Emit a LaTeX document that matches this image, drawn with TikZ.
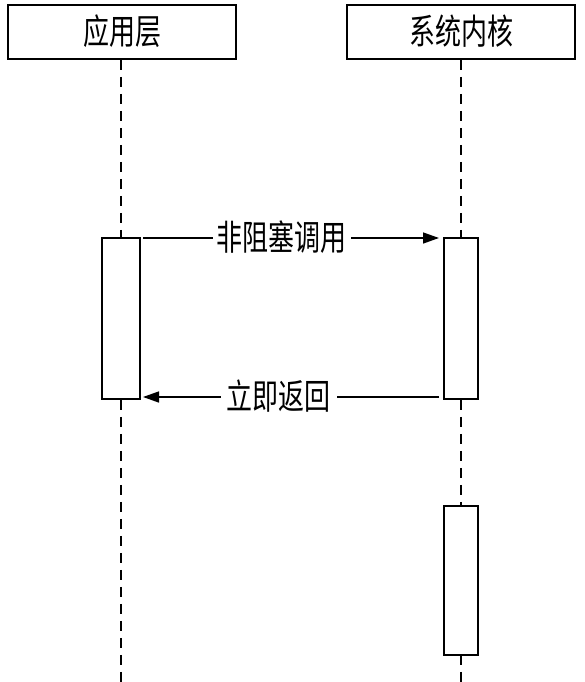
\documentclass[tikz,border=0pt]{standalone}
\usepackage{fontspec}
\newfontfamily\cjk{Noto Sans CJK SC}
\usetikzlibrary{arrows.meta}
\newcommand{\tallt}[1]{\scalebox{1}[1.35]{#1}}
\begin{document}
\begin{tikzpicture}[x=1pt,y=-1pt,
  header/.style={draw,line width=1.6pt,fill=white,minimum width=228pt,minimum height=54pt,inner sep=0pt,font=\cjk\fontsize{26}{30}\selectfont},
  lifeline/.style={line width=1.3pt,dash pattern=on 10pt off 7pt},
  actbox/.style={draw,line width=1.6pt,fill=white,inner sep=0pt},
  msg/.style={line width=1.4pt,-{Triangle[length=16pt,width=11pt]}},
  msglabel/.style={fill=white,inner xsep=4pt,inner ysep=2pt,font=\cjk\fontsize{26}{30}\selectfont}]
\useasboundingbox (0,0) rectangle (585,682);
\node[header] (app) at (122,32) {};
\node[header] (ker) at (461,32) {};
\node (appt) at (122,31) {\cjk\fontsize{26}{30}\selectfont\tallt{应用层}};
\node (kert) at (461,31) {\cjk\fontsize{26}{30}\selectfont\tallt{系统内核}};
\coordinate (appEnd) at (121,682);
\coordinate (kerEnd) at (461,682);
\draw[lifeline] (app.south -| appEnd) -- (appEnd);
\draw[lifeline] (ker.south -| kerEnd) -- (kerEnd);
\node[actbox,minimum width=38pt,minimum height=161pt] (a1) at (121,318.5) {};
\node[actbox,minimum width=34pt,minimum height=161pt] (k1) at (461,318.5) {};
\node[actbox,minimum width=34pt,minimum height=149pt] (k2) at (461,580.5) {};
\coordinate (c1) at (143,238);
\coordinate (c2) at (439,238);
\coordinate (c3) at (439,397);
\coordinate (c4) at (143,397);
\draw[msg] (c1) -- (c2) node[msglabel,midway,xshift=-9.5pt,yshift=1pt] (l1) {\tallt{非阻塞调用}};
\draw[msg] (c3) -- (c4) node[msglabel,midway,xshift=-12.5pt,yshift=1pt,inner xsep=6pt] (l2) {\tallt{立即返回}};
\end{tikzpicture}
\end{document}
